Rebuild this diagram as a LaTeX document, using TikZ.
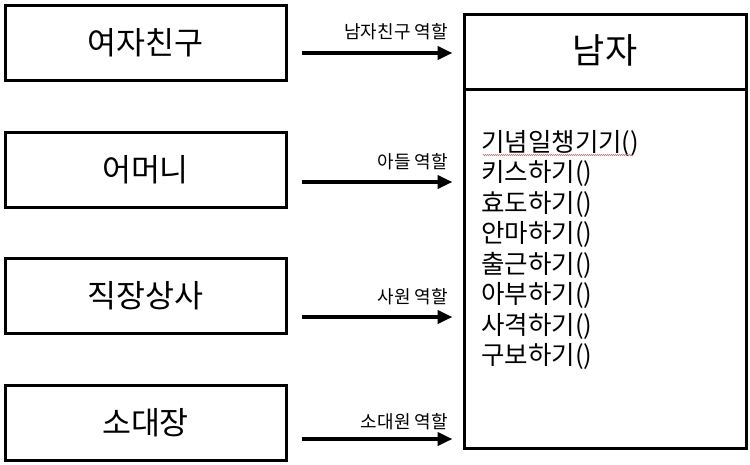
\documentclass[tikz,border=0pt]{standalone}
\usepackage{fontspec}
\setmainfont{Noto Sans CJK KR}
\usetikzlibrary{arrows.meta,decorations.pathmorphing}
\begin{document}
\begin{tikzpicture}[x=1pt,y=-1pt,
  rolebox/.style={draw,line width=3pt,minimum width=281pt,minimum height=75pt,inner sep=0pt,font=\fontsize{31.5}{31.5}\selectfont},
  arr/.style={line width=4pt,-{Triangle[length=15pt,width=13pt]}},
  rolelabel/.style={anchor=east,inner sep=0pt,font=\fontsize{18}{18}\selectfont}]
\useasboundingbox (0,0) rectangle (750,464);
\node[rolebox] (b1) at (145.5,42.5) {여자친구};
\node[rolebox] (b2) at (145.5,169.5) {어머니};
\node[rolebox] (b3) at (145.5,295.5) {직장상사};
\node[rolebox] (b4) at (145.5,422.5) {소대장};
\node[draw,line width=3pt,minimum width=282pt,minimum height=434pt,inner sep=0pt] (man) at (605,231) {};
\node[inner sep=0pt,font=\fontsize{35}{35}\selectfont] (title) at (605,50) {남자};
\coordinate (dl) at (464,89);
\coordinate (dr) at (746,89);
\draw[line width=3pt] (dl) -- (dr);
\node[anchor=north west,align=left,inner sep=0pt,font=\fontsize{25.5}{30.5}\selectfont] (methods) at (481,130)
 {기념일챙기기()\\키스하기()\\효도하기()\\안마하기()\\출근하기()\\아부하기()\\사격하기()\\구보하기()};
\draw[red!60,line width=0.6pt,decoration={zigzag,segment length=2pt,amplitude=0.6pt},decorate] (483,155) -- (633,155);
\draw[arr,shorten <=14pt,shorten >=10pt] (b1.east |- 0,53) -- (man.west |- 0,53);
\draw[arr,shorten <=14pt,shorten >=10pt] (b2.east |- 0,182) -- (man.west |- 0,182);
\draw[arr,shorten <=14pt,shorten >=10pt] (b3.east |- 0,317) -- (man.west |- 0,317);
\draw[arr,shorten <=14pt,shorten >=10pt] (b4.east |- 0,439) -- (man.west |- 0,439);
\node[rolelabel] (l1) at (448,32) {남자친구 역할};
\node[rolelabel] (l2) at (448,162) {아들 역할};
\node[rolelabel] (l3) at (448,297) {사원 역할};
\node[rolelabel] (l4) at (448,422) {소대원 역할};
\end{tikzpicture}
\end{document}
